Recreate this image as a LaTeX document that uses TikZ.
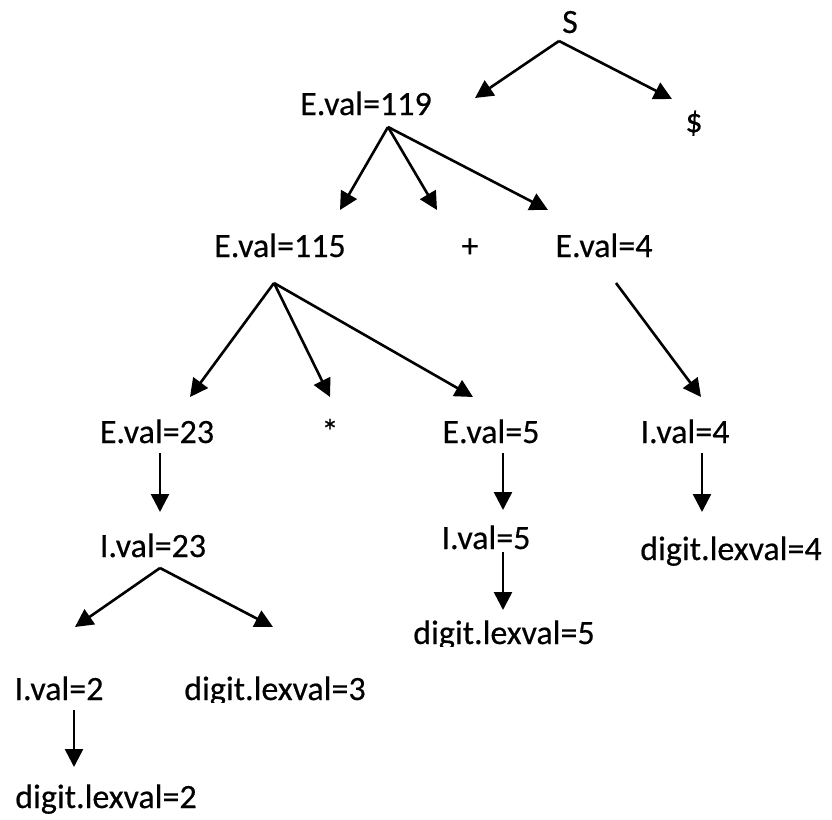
\documentclass[tikz,border=0pt]{standalone}
\usepackage{fontspec}
\setmainfont{Carlito}
\newfontfamily\lblfont[FakeBold=0.4]{Carlito}
\usetikzlibrary{arrows.meta,calc}

\begin{document}
\begin{tikzpicture}[x=1pt,y=-1pt,
  lbl/.style={inner sep=0pt,anchor=base,font=\lblfont\fontsize{34}{40}\selectfont},
  edge/.style={line width=2.6pt,-{Triangle[length=18pt,width=18pt]}}]
\path[use as bounding box] (0,0) rectangle (832,819);

% labels of the annotated parse tree
\node[lbl] (s)    at (570,33)  {S};
\node[lbl] (dol)  at (694,132) {\$};
\node[lbl] (e119) at (366,115) {E.val=119};
\node[lbl] (e115) at (280,257) {E.val=115};
\node[lbl] (plus) at (470,257) {+};
\node[lbl] (e4)   at (604,257) {E.val=4};
\node[lbl] (e23)  at (157,443) {E.val=23};
\node[lbl] (star) at (330,443) {*};
\node[lbl] (e5)   at (491,443) {E.val=5};
\node[lbl] (i4)   at (685,443) {I.val=4};
\node[lbl] (i23)  at (153,557) {I.val=23};
\node[lbl] (i5)   at (486,549) {I.val=5};
\node[lbl] (d4)   at (731,560) {digit.lexval=4};
\node[lbl] (i2)   at (59,700)  {I.val=2};
% leaf labels whose descenders are cut off
\begin{scope}
  \clip (0,0) rectangle (832,646);
  \node[lbl] (d5) at (504,644) {digit.lexval=5};
\end{scope}
\begin{scope}
  \clip (0,0) rectangle (832,702);
  \node[lbl] (d3) at (275,700) {digit.lexval=3};
\end{scope}
\begin{scope}
  \clip (0,0) rectangle (832,813);
  \node[lbl] (d2) at (106,808) {digit.lexval=2};
\end{scope}

% fork points under each parent
\coordinate (fs)    at ($(s.base)+(-11,8)$);
\coordinate (f119)  at ($(e119.base)+(22,12)$);
\coordinate (f115)  at ($(e115.base)+(-6,26)$);
\coordinate (f4)    at ($(e4.base)+(12,26)$);
\coordinate (f23)   at ($(e23.base)+(3,10)$);
\coordinate (fi23)  at ($(i23.base)+(7,11)$);
\coordinate (f5)    at ($(e5.base)+(12,10)$);
\coordinate (fi5)   at ($(i5.base)+(17,3)$);
\coordinate (fi4)   at ($(i4.base)+(17,10)$);
\coordinate (fi2)   at ($(i2.base)+(15,10)$);

% arrow tips above each child
\coordinate (te119) at ($(e119.base)+(109,-17)$);
\coordinate (tdol)  at ($(dol.base)+(-22,-33)$);
\coordinate (te115) at ($(e115.base)+(60,-47)$);
\coordinate (tplus) at ($(plus.base)+(-33,-47)$);
\coordinate (te4)   at ($(e4.base)+(-56,-47)$);
\coordinate (te23)  at ($(e23.base)+(33,-46)$);
\coordinate (tstar) at ($(star.base)+(0,-46)$);
\coordinate (te5)   at ($(e5.base)+(-18,-46)$);
\coordinate (ti4)   at ($(i4.base)+(16,-46)$);
\coordinate (ti23)  at ($(i23.base)+(7,-45)$);
\coordinate (ti2)   at ($(i2.base)+(16,-73)$);
\coordinate (td3)   at ($(d3.base)+(-2,-73)$);
\coordinate (ti5)   at ($(i5.base)+(17,-39)$);
\coordinate (td5)   at ($(d5.base)+(-1,-34)$);
\coordinate (td4)   at ($(d4.base)+(-29,-48)$);
\coordinate (td2)   at ($(d2.base)+(-32,-41)$);

% tree edges
\draw[edge] (fs) -- (te119);
\draw[edge] (fs) -- (tdol);
\draw[edge] (f119) -- (te115);
\draw[edge] (f119) -- (tplus);
\draw[edge] (f119) -- (te4);
\draw[edge] (f115) -- (te23);
\draw[edge] (f115) -- (tstar);
\draw[edge] (f115) -- (te5);
\draw[edge] (f4) -- (ti4);
\draw[edge] (f23) -- (ti23);
\draw[edge] (fi23) -- (ti2);
\draw[edge] (fi23) -- (td3);
\draw[edge] (f5) -- (ti5);
\draw[edge] (fi5) -- (td5);
\draw[edge] (fi4) -- (td4);
\draw[edge] (fi2) -- (td2);
\end{tikzpicture}
\end{document}
